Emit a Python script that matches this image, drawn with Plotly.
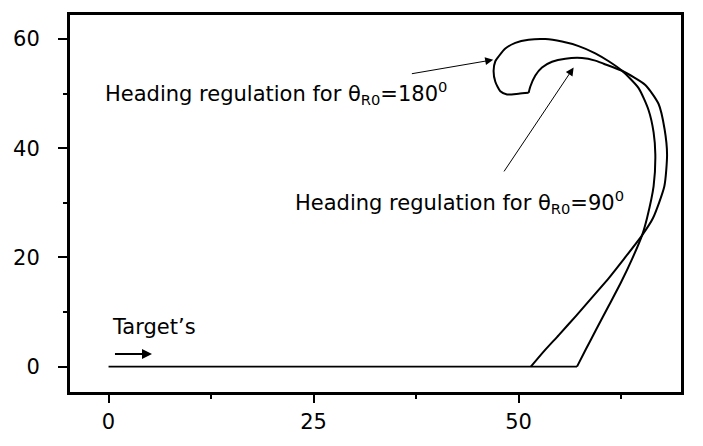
import plotly.graph_objects as go

# Target's straight path
target_x = [0.0, 57.12]
target_y = [0.0, 0.0]

# Heading regulation trajectory, theta_R0 = 180 deg
theta180_x = [51.22, 50.0, 48.59, 47.77, 47.16, 46.95, 47.16, 47.56, 48.38, 49.60,
              51.22, 53.26, 55.29, 57.32, 59.35, 60.94, 62.61, 64.63, 65.85, 66.46,
              66.67, 66.46, 65.66, 65.05, 63.83, 62.46, 60.94, 59.41, 58.20, 57.12]
theta180_y = [50.14, 49.97, 49.84, 50.43, 52.17, 54.19, 55.93, 56.80, 58.26, 59.30,
              59.88, 60.0, 59.53, 58.71, 57.39, 55.97, 54.19, 51.01, 46.96, 42.89,
              38.83, 33.04, 27.23, 24.05, 19.70, 15.36, 11.01, 6.66, 3.18, 0.0]

# Heading regulation trajectory, theta_R0 = 90 deg
theta90_x = [51.22, 51.43, 52.04, 52.85, 54.07, 55.70, 57.73, 59.35, 60.37, 62.61,
             65.45, 67.07, 67.80, 68.10, 67.77, 66.39, 65.05, 62.83, 61.00, 58.99,
             56.98, 54.90, 53.13, 51.49]
theta90_y = [50.14, 51.30, 53.32, 54.78, 55.83, 56.40, 56.52, 56.05, 55.48, 54.19,
             51.58, 48.10, 43.48, 38.83, 33.04, 27.23, 24.05, 19.70, 16.23, 12.75,
             9.27, 5.79, 2.89, 0.0]

x_ticks = [0, 25, 50]
x_ticklabels = ["0", "25", "50"]
y_ticks = [0, 20, 40, 60]
y_ticklabels = ["0", "20", "40", "60"]

label_180 = "Heading regulation for θ<sub>R0</sub>=180<sup>0</sup>"
label_90 = "Heading regulation for θ<sub>R0</sub>=90<sup>0</sup>"
label_target = "Target’s"

FONT = "DejaVu Sans"

fig = go.Figure()
fig.add_trace(go.Scatter(x=target_x, y=target_y, mode="lines",
                         line=dict(color="black", width=1.6), showlegend=False))
fig.add_trace(go.Scatter(x=theta180_x, y=theta180_y, mode="lines",
                         line=dict(color="black", width=2, shape="spline", smoothing=0.6),
                         showlegend=False))
fig.add_trace(go.Scatter(x=theta90_x, y=theta90_y, mode="lines",
                         line=dict(color="black", width=2, shape="spline", smoothing=0.6),
                         showlegend=False))

axis_common = dict(
    showgrid=False, zeroline=False, showline=True, linecolor="black", linewidth=3,
    mirror=True, ticks="outside", tickcolor="black", tickwidth=2,
    tickfont=dict(family=FONT, size=21, color="black"),
)

fig.update_xaxes(range=[-4.7, 69.8], tickmode="array", tickvals=x_ticks,
                 ticktext=x_ticklabels, ticklen=8, ticklabelstandoff=1,
                 minor=dict(dtick=12.5, tick0=0, ticklen=4, tickwidth=2,
                            ticks="outside", tickcolor="black"),
                 **axis_common)
fig.update_yaxes(range=[-4.64, 64.4], tickmode="array", tickvals=y_ticks,
                 ticktext=y_ticklabels, ticklen=9, ticklabelstandoff=14,
                 minor=dict(dtick=10, tick0=0, ticklen=4, tickwidth=2,
                            ticks="outside", tickcolor="black"),
                 **axis_common)

annots = [
    dict(x=-0.65, y=50.1, text=label_180, xanchor="left", yanchor="middle"),
    dict(x=22.5, y=30.2, text=label_90, xanchor="left", yanchor="middle"),
    dict(x=0.2, y=7.2, text=label_target, xanchor="left", yanchor="middle"),
]
for a in annots:
    fig.add_annotation(xref="x", yref="y", showarrow=False,
                       font=dict(family=FONT, size=21, color="black"), **a)

# arrows
fig.add_annotation(xref="x", yref="y", axref="x", ayref="y",
                   x=46.9, y=56.2, ax=36.8, ay=53.6, text="",
                   showarrow=True, arrowhead=2, arrowsize=1.6, arrowwidth=1,
                   arrowcolor="black", standoff=0)
fig.add_annotation(xref="x", yref="y", axref="x", ayref="y",
                   x=56.71, y=54.78, ax=48.1, ay=35.48, text="",
                   showarrow=True, arrowhead=2, arrowsize=1.6, arrowwidth=1,
                   arrowcolor="black", standoff=0)
fig.add_annotation(xref="x", yref="y", axref="x", ayref="y",
                   x=5.3, y=2.3, ax=0.6, ay=2.3, text="",
                   showarrow=True, arrowhead=2, arrowsize=1.0, arrowwidth=2,
                   arrowcolor="black", standoff=0)

fig.update_layout(
    width=703, height=446,
    margin=dict(l=70, r=22, t=13, b=36),
    paper_bgcolor="white", plot_bgcolor="white",
    font=dict(family=FONT, color="black"),
)

fig.write_html("out.html")
